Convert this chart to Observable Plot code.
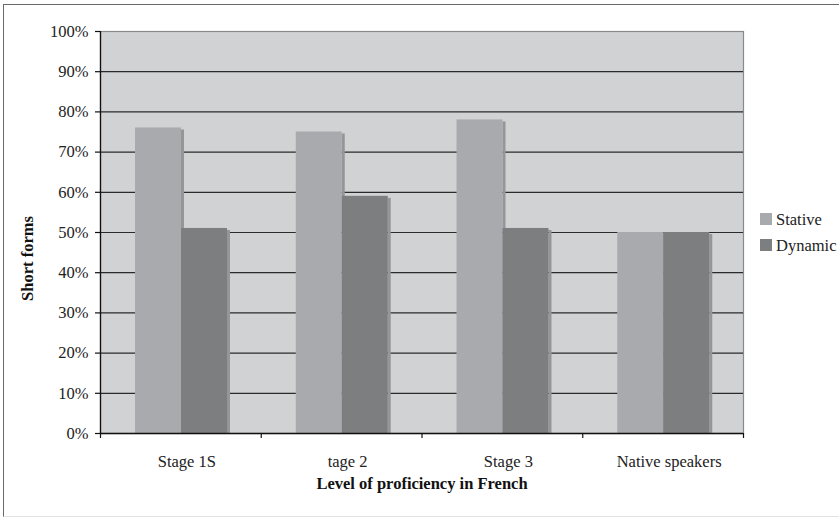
<!DOCTYPE html>
<html>
<head>
<meta charset="utf-8">
<script src="https://cdn.jsdelivr.net/npm/d3@7"></script>
<script src="https://cdn.jsdelivr.net/npm/@observablehq/plot@0.6"></script>
<style>
  html, body { margin: 0; padding: 0; background: #fff; overflow: hidden; }
  #wrap { position: relative; width: 839px; height: 519px; }
  #frame { position: absolute; left: 3px; top: 4px; width: 900px; height: 511px;
           border-left: 1.5px solid #6a6a6a; border-top: 1.5px solid #6a6a6a; border-bottom: 1px solid #e2e2e2; }
  #chart { position: absolute; left: 0; top: 0; }
  #legend { position: absolute; left: 758px; top: 207px; }
</style>
</head>
<body>
<div id="wrap">
  <div id="frame"></div>
  <div id="chart"></div>
  <div id="legend"></div>
</div>
<script>
const categories = ["Stage 1S", "tage 2", "Stage 3", "Native speakers"];
const seriesNames = ["Stative", "Dynamic"];
const stative = [0.76, 0.75, 0.78, 0.50];
const dynamic = [0.51, 0.59, 0.51, 0.50];
const yTicks = [0, 0.1, 0.2, 0.3, 0.4, 0.5, 0.6, 0.7, 0.8, 0.9, 1.0];
const colors = {Stative: "#a9aaad", Dynamic: "#7d7e80"};

// layout (fractions of a category band)
const groupPad = 35 / 160.75;
const barW = 46 / 160.75;
const shadowW = 3 / 160.75;

const rows = [];
categories.forEach((c, i) => {
  [stative[i], dynamic[i]].forEach((v, j) => {
    const x1 = i + groupPad + j * barW;
    rows.push({cat: c, series: seriesNames[j], value: v, x1, x2: x1 + barW});
  });
});
const catPos = categories.map((c, i) => ({cat: c, x: i + 0.5}));
const bounds = d3.range(categories.length + 1);

const font = "Liberation Serif";
const chart = Plot.plot({
  width: 839,
  height: 519,
  marginLeft: 100,
  marginRight: 96,
  marginTop: 31,
  marginBottom: 86,
  style: {fontFamily: font, fontSize: "16.5px", color: "#222", background: "transparent"},
  x: {domain: [0, categories.length], axis: null},
  y: {domain: [0, 1], axis: null},
  marks: [
    Plot.frame({fill: "#d1d2d4", stroke: "#8a8a8a", strokeWidth: 1.2}),
    Plot.ruleY(yTicks.filter(d => d > 0 && d < 1), {stroke: "#2a2a2a", strokeWidth: 1.2}),
    Plot.rectY(rows, {x1: "x2", x2: d => d.x2 + shadowW, y1: 0, y2: "value", fill: "#959698", insetTop: 2}),
    Plot.rectY(rows, {x1: "x1", x2: "x2", y1: 0, y2: "value", fill: d => colors[d.series]}),
    Plot.axisY({ticks: yTicks, tickFormat: d3.format(".0%"), tickSize: 5, tickPadding: 7, stroke: "#111", strokeWidth: 1.2, fontSize: "16.5px", fill: "#222", label: null}),
    Plot.axisX({ticks: bounds, tickFormat: () => "", tickSize: 5, stroke: "#111", strokeWidth: 1.2, label: null}),
    Plot.ruleX([0], {stroke: "#111", strokeWidth: 1.3}),
    Plot.ruleY([0], {stroke: "#111", strokeWidth: 1.3}),
    Plot.text(catPos, {x: "x", text: "cat", frameAnchor: "bottom", lineAnchor: "middle", dy: 28, dx: 6, fill: "#222", fontSize: "16.5px"}),
    Plot.text(["Level of proficiency in French"], {frameAnchor: "bottom", lineAnchor: "middle", dy: 50, fontWeight: "bold", fill: "#111", fontSize: "16.5px"}),
    Plot.text(["Short forms"], {frameAnchor: "left", textAnchor: "middle", lineAnchor: "middle", rotate: -90, dx: -73, dy: 26, fontWeight: "bold", fill: "#111", fontSize: "16.5px"})
  ]
});
document.getElementById("chart").appendChild(chart);

// legend as a small SVG
const lsvg = d3.select("#legend").append("svg")
  .attr("width", 81).attr("height", 52)
  .style("font-family", font).style("font-size", "16.5px");
seriesNames.forEach((s, i) => {
  const g = lsvg.append("g").attr("transform", `translate(0,${i * 26})`);
  g.append("rect").attr("x", 2).attr("y", 6).attr("width", 12).attr("height", 12).attr("fill", colors[s]);
  g.append("text").attr("x", 18).attr("y", 18).attr("fill", "#222").text(s);
});
</script>
</body>
</html>
